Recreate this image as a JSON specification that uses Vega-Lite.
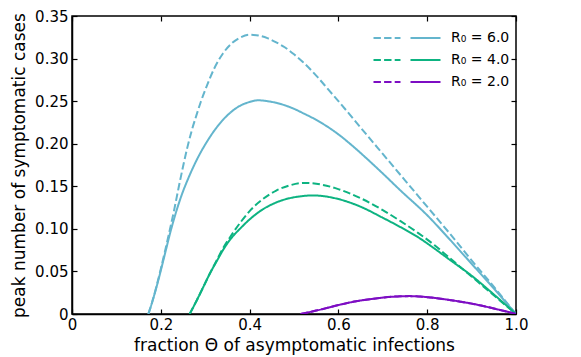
{
  "$schema": "https://vega.github.io/schema/vega-lite/v6.json",
  "width": 444,
  "height": 298,
  "autosize": {"type": "none"},
  "padding": {"left": 72, "top": 16, "right": 65, "bottom": 43},
  "background": "white",
  "config": {
    "font": "DejaVu Sans",
    "view": {"stroke": "black", "strokeWidth": 1.5},
    "axis": {"domainColor": "black", "domainWidth": 1.5, "tickColor": "black", "tickWidth": 1.2, "labelColor": "black", "titleColor": "black", "grid": false, "labelFont": "DejaVu Sans", "titleFont": "DejaVu Sans", "labelFontSize": 15, "titleFontSize": 17, "titleFontWeight": "normal"},
    "legend": {"orient": "none", "legendX": 328, "legendY": 15, "symbolType": "M-6.7,0H-5.22M-4.58,0H-3.1M-2.46,0H-1.3M0.7,0H6.7", "symbolSize": 100, "symbolStrokeWidth": 2, "labelFont": "DejaVu Sans", "labelFontSize": 14, "labelColor": "black", "labelOffset": 37, "rowPadding": 8}
  },
  "data": {"values": [
    {"s":"6d","R":"R₀ = 6.0","k":"dashed","x":0.172,"y":0},{"s":"6d","R":"R₀ = 6.0","k":"dashed","x":0.18,"y":0.013},{"s":"6d","R":"R₀ = 6.0","k":"dashed","x":0.19,"y":0.032},{"s":"6d","R":"R₀ = 6.0","k":"dashed","x":0.2,"y":0.053},{"s":"6d","R":"R₀ = 6.0","k":"dashed","x":0.21,"y":0.075},{"s":"6d","R":"R₀ = 6.0","k":"dashed","x":0.22,"y":0.098},{"s":"6d","R":"R₀ = 6.0","k":"dashed","x":0.23,"y":0.122},{"s":"6d","R":"R₀ = 6.0","k":"dashed","x":0.24,"y":0.148},{"s":"6d","R":"R₀ = 6.0","k":"dashed","x":0.25,"y":0.173},{"s":"6d","R":"R₀ = 6.0","k":"dashed","x":0.26,"y":0.196},{"s":"6d","R":"R₀ = 6.0","k":"dashed","x":0.27,"y":0.216},{"s":"6d","R":"R₀ = 6.0","k":"dashed","x":0.28,"y":0.233},{"s":"6d","R":"R₀ = 6.0","k":"dashed","x":0.29,"y":0.249},{"s":"6d","R":"R₀ = 6.0","k":"dashed","x":0.3,"y":0.263},{"s":"6d","R":"R₀ = 6.0","k":"dashed","x":0.32,"y":0.288},{"s":"6d","R":"R₀ = 6.0","k":"dashed","x":0.34,"y":0.306},{"s":"6d","R":"R₀ = 6.0","k":"dashed","x":0.36,"y":0.318},{"s":"6d","R":"R₀ = 6.0","k":"dashed","x":0.38,"y":0.325},{"s":"6d","R":"R₀ = 6.0","k":"dashed","x":0.4,"y":0.328},{"s":"6d","R":"R₀ = 6.0","k":"dashed","x":0.42,"y":0.327},{"s":"6d","R":"R₀ = 6.0","k":"dashed","x":0.44,"y":0.324},{"s":"6d","R":"R₀ = 6.0","k":"dashed","x":0.46,"y":0.319},{"s":"6d","R":"R₀ = 6.0","k":"dashed","x":0.48,"y":0.313},{"s":"6d","R":"R₀ = 6.0","k":"dashed","x":0.5,"y":0.305},{"s":"6d","R":"R₀ = 6.0","k":"dashed","x":0.52,"y":0.296},{"s":"6d","R":"R₀ = 6.0","k":"dashed","x":0.55,"y":0.28},{"s":"6d","R":"R₀ = 6.0","k":"dashed","x":0.58,"y":0.262},{"s":"6d","R":"R₀ = 6.0","k":"dashed","x":0.6,"y":0.25},{"s":"6d","R":"R₀ = 6.0","k":"dashed","x":0.65,"y":0.219},{"s":"6d","R":"R₀ = 6.0","k":"dashed","x":0.7,"y":0.188},{"s":"6d","R":"R₀ = 6.0","k":"dashed","x":0.75,"y":0.157},{"s":"6d","R":"R₀ = 6.0","k":"dashed","x":0.8,"y":0.126},{"s":"6d","R":"R₀ = 6.0","k":"dashed","x":0.85,"y":0.095},{"s":"6d","R":"R₀ = 6.0","k":"dashed","x":0.9,"y":0.063},{"s":"6d","R":"R₀ = 6.0","k":"dashed","x":0.95,"y":0.032},{"s":"6d","R":"R₀ = 6.0","k":"dashed","x":1.0,"y":0},
    {"s":"6s","R":"R₀ = 6.0","k":"solid","x":0.172,"y":0},{"s":"6s","R":"R₀ = 6.0","k":"solid","x":0.18,"y":0.013},{"s":"6s","R":"R₀ = 6.0","k":"solid","x":0.19,"y":0.031},{"s":"6s","R":"R₀ = 6.0","k":"solid","x":0.2,"y":0.051},{"s":"6s","R":"R₀ = 6.0","k":"solid","x":0.21,"y":0.072},{"s":"6s","R":"R₀ = 6.0","k":"solid","x":0.22,"y":0.093},{"s":"6s","R":"R₀ = 6.0","k":"solid","x":0.23,"y":0.112},{"s":"6s","R":"R₀ = 6.0","k":"solid","x":0.24,"y":0.129},{"s":"6s","R":"R₀ = 6.0","k":"solid","x":0.25,"y":0.144},{"s":"6s","R":"R₀ = 6.0","k":"solid","x":0.26,"y":0.157},{"s":"6s","R":"R₀ = 6.0","k":"solid","x":0.27,"y":0.169},{"s":"6s","R":"R₀ = 6.0","k":"solid","x":0.28,"y":0.18},{"s":"6s","R":"R₀ = 6.0","k":"solid","x":0.29,"y":0.19},{"s":"6s","R":"R₀ = 6.0","k":"solid","x":0.3,"y":0.199},{"s":"6s","R":"R₀ = 6.0","k":"solid","x":0.32,"y":0.215},{"s":"6s","R":"R₀ = 6.0","k":"solid","x":0.34,"y":0.228},{"s":"6s","R":"R₀ = 6.0","k":"solid","x":0.36,"y":0.238},{"s":"6s","R":"R₀ = 6.0","k":"solid","x":0.38,"y":0.245},{"s":"6s","R":"R₀ = 6.0","k":"solid","x":0.4,"y":0.249},{"s":"6s","R":"R₀ = 6.0","k":"solid","x":0.42,"y":0.251},{"s":"6s","R":"R₀ = 6.0","k":"solid","x":0.44,"y":0.25},{"s":"6s","R":"R₀ = 6.0","k":"solid","x":0.46,"y":0.248},{"s":"6s","R":"R₀ = 6.0","k":"solid","x":0.48,"y":0.245},{"s":"6s","R":"R₀ = 6.0","k":"solid","x":0.5,"y":0.241},{"s":"6s","R":"R₀ = 6.0","k":"solid","x":0.52,"y":0.236},{"s":"6s","R":"R₀ = 6.0","k":"solid","x":0.55,"y":0.228},{"s":"6s","R":"R₀ = 6.0","k":"solid","x":0.6,"y":0.211},{"s":"6s","R":"R₀ = 6.0","k":"solid","x":0.635,"y":0.196},{"s":"6s","R":"R₀ = 6.0","k":"solid","x":0.665,"y":0.182},{"s":"6s","R":"R₀ = 6.0","k":"solid","x":0.7,"y":0.165},{"s":"6s","R":"R₀ = 6.0","k":"solid","x":0.74,"y":0.145},{"s":"6s","R":"R₀ = 6.0","k":"solid","x":0.8,"y":0.116},{"s":"6s","R":"R₀ = 6.0","k":"solid","x":0.85,"y":0.088},{"s":"6s","R":"R₀ = 6.0","k":"solid","x":0.9,"y":0.059},{"s":"6s","R":"R₀ = 6.0","k":"solid","x":0.95,"y":0.03},{"s":"6s","R":"R₀ = 6.0","k":"solid","x":1.0,"y":0},
    {"s":"4d","R":"R₀ = 4.0","k":"dashed","x":0.265,"y":0},{"s":"4d","R":"R₀ = 4.0","k":"dashed","x":0.28,"y":0.015},{"s":"4d","R":"R₀ = 4.0","k":"dashed","x":0.296,"y":0.032},{"s":"4d","R":"R₀ = 4.0","k":"dashed","x":0.31,"y":0.047},{"s":"4d","R":"R₀ = 4.0","k":"dashed","x":0.327,"y":0.064},{"s":"4d","R":"R₀ = 4.0","k":"dashed","x":0.34,"y":0.077},{"s":"4d","R":"R₀ = 4.0","k":"dashed","x":0.357,"y":0.091},{"s":"4d","R":"R₀ = 4.0","k":"dashed","x":0.38,"y":0.108},{"s":"4d","R":"R₀ = 4.0","k":"dashed","x":0.402,"y":0.122},{"s":"4d","R":"R₀ = 4.0","k":"dashed","x":0.43,"y":0.135},{"s":"4d","R":"R₀ = 4.0","k":"dashed","x":0.46,"y":0.145},{"s":"4d","R":"R₀ = 4.0","k":"dashed","x":0.49,"y":0.151},{"s":"4d","R":"R₀ = 4.0","k":"dashed","x":0.522,"y":0.154},{"s":"4d","R":"R₀ = 4.0","k":"dashed","x":0.55,"y":0.153},{"s":"4d","R":"R₀ = 4.0","k":"dashed","x":0.598,"y":0.147},{"s":"4d","R":"R₀ = 4.0","k":"dashed","x":0.65,"y":0.136},{"s":"4d","R":"R₀ = 4.0","k":"dashed","x":0.7,"y":0.122},{"s":"4d","R":"R₀ = 4.0","k":"dashed","x":0.74,"y":0.109},{"s":"4d","R":"R₀ = 4.0","k":"dashed","x":0.78,"y":0.095},{"s":"4d","R":"R₀ = 4.0","k":"dashed","x":0.816,"y":0.081},{"s":"4d","R":"R₀ = 4.0","k":"dashed","x":0.85,"y":0.066},{"s":"4d","R":"R₀ = 4.0","k":"dashed","x":0.9,"y":0.044},{"s":"4d","R":"R₀ = 4.0","k":"dashed","x":0.95,"y":0.022},{"s":"4d","R":"R₀ = 4.0","k":"dashed","x":1.0,"y":0},
    {"s":"4s","R":"R₀ = 4.0","k":"solid","x":0.265,"y":0},{"s":"4s","R":"R₀ = 4.0","k":"solid","x":0.28,"y":0.015},{"s":"4s","R":"R₀ = 4.0","k":"solid","x":0.296,"y":0.032},{"s":"4s","R":"R₀ = 4.0","k":"solid","x":0.31,"y":0.047},{"s":"4s","R":"R₀ = 4.0","k":"solid","x":0.327,"y":0.063},{"s":"4s","R":"R₀ = 4.0","k":"solid","x":0.34,"y":0.075},{"s":"4s","R":"R₀ = 4.0","k":"solid","x":0.357,"y":0.088},{"s":"4s","R":"R₀ = 4.0","k":"solid","x":0.38,"y":0.101},{"s":"4s","R":"R₀ = 4.0","k":"solid","x":0.402,"y":0.112},{"s":"4s","R":"R₀ = 4.0","k":"solid","x":0.43,"y":0.123},{"s":"4s","R":"R₀ = 4.0","k":"solid","x":0.46,"y":0.131},{"s":"4s","R":"R₀ = 4.0","k":"solid","x":0.49,"y":0.136},{"s":"4s","R":"R₀ = 4.0","k":"solid","x":0.52,"y":0.1385},{"s":"4s","R":"R₀ = 4.0","k":"solid","x":0.54,"y":0.1393},{"s":"4s","R":"R₀ = 4.0","k":"solid","x":0.56,"y":0.1388},{"s":"4s","R":"R₀ = 4.0","k":"solid","x":0.6,"y":0.135},{"s":"4s","R":"R₀ = 4.0","k":"solid","x":0.65,"y":0.126},{"s":"4s","R":"R₀ = 4.0","k":"solid","x":0.7,"y":0.113},{"s":"4s","R":"R₀ = 4.0","k":"solid","x":0.74,"y":0.102},{"s":"4s","R":"R₀ = 4.0","k":"solid","x":0.78,"y":0.09},{"s":"4s","R":"R₀ = 4.0","k":"solid","x":0.816,"y":0.077},{"s":"4s","R":"R₀ = 4.0","k":"solid","x":0.85,"y":0.064},{"s":"4s","R":"R₀ = 4.0","k":"solid","x":0.9,"y":0.045},{"s":"4s","R":"R₀ = 4.0","k":"solid","x":0.95,"y":0.023},{"s":"4s","R":"R₀ = 4.0","k":"solid","x":1.0,"y":0},
    {"s":"2d","R":"R₀ = 2.0","k":"dashed","x":0.515,"y":0},{"s":"2d","R":"R₀ = 2.0","k":"dashed","x":0.55,"y":0.004},{"s":"2d","R":"R₀ = 2.0","k":"dashed","x":0.6,"y":0.0105},{"s":"2d","R":"R₀ = 2.0","k":"dashed","x":0.64,"y":0.015},{"s":"2d","R":"R₀ = 2.0","k":"dashed","x":0.68,"y":0.018},{"s":"2d","R":"R₀ = 2.0","k":"dashed","x":0.72,"y":0.0202},{"s":"2d","R":"R₀ = 2.0","k":"dashed","x":0.76,"y":0.021},{"s":"2d","R":"R₀ = 2.0","k":"dashed","x":0.8,"y":0.0198},{"s":"2d","R":"R₀ = 2.0","k":"dashed","x":0.85,"y":0.0165},{"s":"2d","R":"R₀ = 2.0","k":"dashed","x":0.9,"y":0.0122},{"s":"2d","R":"R₀ = 2.0","k":"dashed","x":0.95,"y":0.0065},{"s":"2d","R":"R₀ = 2.0","k":"dashed","x":1.0,"y":0},
    {"s":"2s","R":"R₀ = 2.0","k":"solid","x":0.515,"y":0},{"s":"2s","R":"R₀ = 2.0","k":"solid","x":0.55,"y":0.004},{"s":"2s","R":"R₀ = 2.0","k":"solid","x":0.6,"y":0.0105},{"s":"2s","R":"R₀ = 2.0","k":"solid","x":0.64,"y":0.015},{"s":"2s","R":"R₀ = 2.0","k":"solid","x":0.68,"y":0.018},{"s":"2s","R":"R₀ = 2.0","k":"solid","x":0.72,"y":0.0202},{"s":"2s","R":"R₀ = 2.0","k":"solid","x":0.76,"y":0.021},{"s":"2s","R":"R₀ = 2.0","k":"solid","x":0.8,"y":0.0198},{"s":"2s","R":"R₀ = 2.0","k":"solid","x":0.85,"y":0.0165},{"s":"2s","R":"R₀ = 2.0","k":"solid","x":0.9,"y":0.0122},{"s":"2s","R":"R₀ = 2.0","k":"solid","x":0.95,"y":0.0065},{"s":"2s","R":"R₀ = 2.0","k":"solid","x":1.0,"y":0}
  ]},
  "layer": [
    {
      "mark": {"type": "line", "strokeWidth": 2, "interpolate": "monotone", "clip": true},
      "encoding": {
        "x": {"field": "x", "type": "quantitative", "scale": {"domain": [0, 1], "nice": false},
              "axis": {"orient": "bottom", "values": [0, 0.2, 0.4, 0.6, 0.8, 1.0], "labelExpr": "datum.value == 0 ? '0' : format(datum.value, '.1f')", "tickSize": -5, "labelPadding": 8, "title": "fraction Θ of asymptomatic infections", "titlePadding": 5, "labelFlush": false}},
        "y": {"field": "y", "type": "quantitative", "scale": {"domain": [0, 0.35], "nice": false},
              "axis": {"orient": "left", "values": [0, 0.05, 0.1, 0.15, 0.2, 0.25, 0.3, 0.35], "labelExpr": "datum.value == 0 ? '0' : format(datum.value, '.2f')", "tickSize": -5, "labelPadding": 9, "title": "peak number of symptomatic cases", "titlePadding": 6, "labelFlush": false}},
        "color": {"field": "R", "type": "nominal", "scale": {"domain": ["R₀ = 6.0", "R₀ = 4.0", "R₀ = 2.0"], "range": ["#64b5cd", "#0db381", "#7d0dc3"]}, "legend": {"title": null}},
        "strokeDash": {"field": "k", "type": "nominal", "scale": {"domain": ["dashed", "solid"], "range": [[7.4, 3.2], [1, 0]]}, "legend": null},
        "detail": {"field": "s"}
      }
    },
    {
      "mark": {"type": "line", "strokeOpacity": 0},
      "encoding": {
        "x": {"field": "x", "type": "quantitative", "axis": {"orient": "top", "values": [0, 0.2, 0.4, 0.6, 0.8, 1.0], "labels": false, "domain": false, "title": null, "tickSize": -5}},
        "y": {"field": "y", "type": "quantitative", "axis": {"orient": "right", "values": [0, 0.05, 0.1, 0.15, 0.2, 0.25, 0.3, 0.35], "labels": false, "domain": false, "title": null, "tickSize": -5}},
        "detail": {"field": "s"}
      }
    }
  ]
}
